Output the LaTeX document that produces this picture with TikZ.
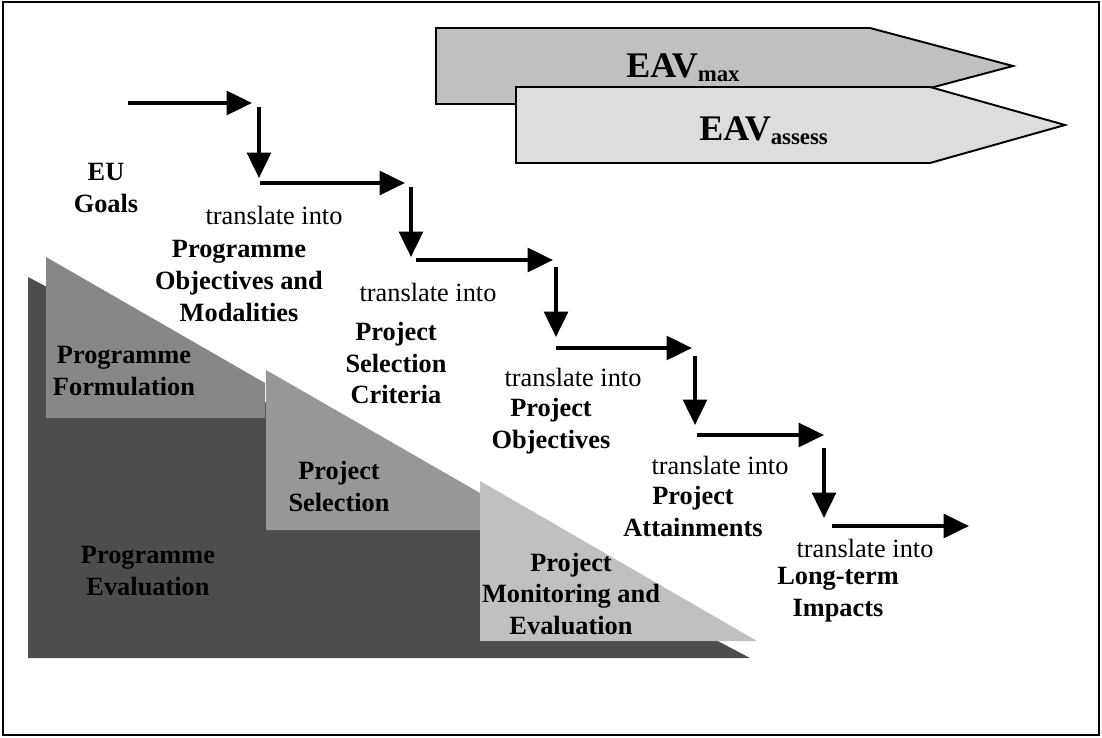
\documentclass[tikz,border=0pt]{standalone}
\usepackage{fontspec}
\setmainfont{Liberation Serif}
\usetikzlibrary{arrows.meta}
\definecolor{evalgray}{HTML}{4D4D4D}
\definecolor{formgray}{HTML}{878787}
\definecolor{selgray}{HTML}{979797}
\definecolor{mongray}{HTML}{C0C0C0}
\definecolor{maxgray}{HTML}{C0C0C0}
\definecolor{assgray}{HTML}{DDDDDD}
\begin{document}
\begin{tikzpicture}[x=0.02cm,y=-0.02cm,
  lbl/.style={font=\fontsize{15}{18.2}\selectfont\bfseries, align=center, inner sep=0pt},
  tr/.style={font=\fontsize{15}{18.2}\selectfont, inner sep=0pt},
  flow/.style={line width=2.3pt, -{Triangle[length=14.5pt,width=13.5pt]}},
  eav/.style={draw=black, line width=1.1pt, line join=miter},
  eavtxt/.style={font=\fontsize{20.5}{24}\selectfont\bfseries, inner sep=0pt, anchor=base west}]
\useasboundingbox (0,0) rectangle (1102,737);
\draw[line width=1.2pt] (3,2) rectangle (1099,735);

% EAV arrows
\draw[eav, fill=maxgray] (436,28) -- (870,28) -- (1013,66) -- (870,104) -- (436,104) -- cycle;
\draw[eav, fill=assgray] (516,87) -- (930,87) -- (1065,125) -- (930,163) -- (516,163) -- cycle;
\node[eavtxt] (eavmax) at (626,77) {EAV\raisebox{-2.8pt}{\fontsize{13}{15}\selectfont max}};
\node[eavtxt] (eavass) at (699,140) {EAV\raisebox{-2.8pt}{\fontsize{13}{15}\selectfont assess}};

% staircase shapes
\fill[evalgray] (28,277) -- (750,658) -- (28,658) -- cycle;
\fill[formgray] (46,257) -- (265,383) -- (265,418) -- (46,418) -- cycle;
\fill[selgray] (266,370) -- (480,493) -- (480,530) -- (266,530) -- cycle;
\fill[mongray] (480,481) -- (757,641) -- (480,641) -- cycle;

\node[lbl] (pform) at (124,371) {Programme\\Formulation};
\node[lbl] (psel) at (339,486) {Project\\Selection};
\node[lbl] (peval) at (148,571) {Programme\\Evaluation};
\node[lbl] (pmon) at (571,594) {Project\\Monitoring and\\Evaluation};

% flow texts
\node[lbl] (eu) at (106,188) {EU\\Goals};
\node[tr] (t1) at (274,215) {translate into};
\node[lbl] (pobj) at (239,281) {Programme\\Objectives and\\Modalities};
\node[tr] (t2) at (428,292) {translate into};
\node[lbl] (crit) at (396,363) {Project\\Selection\\Criteria};
\node[tr] (t3) at (573,377) {translate into};
\node[lbl] (proj) at (551,426) {Project\\Objectives};
\node[tr] (t4) at (720,465) {translate into};
\node[lbl] (att) at (693,511) {Project\\Attainments};
\node[tr] (t5) at (865,548) {translate into};
\node[lbl] (lti) at (838,595) {Long-term\\Impacts};

% arrow coordinates
\coordinate (h1s) at (128,103); \coordinate (h1e) at (252,103);
\coordinate (v1s) at (259,107); \coordinate (v1e) at (259,178);
\coordinate (h2s) at (260,183); \coordinate (h2e) at (405,183);
\coordinate (v2s) at (411,187); \coordinate (v2e) at (411,257);
\coordinate (h3s) at (416,260); \coordinate (h3e) at (553,260);
\coordinate (v3s) at (556,267); \coordinate (v3e) at (556,337);
\coordinate (h4s) at (556,348); \coordinate (h4e) at (692,348);
\coordinate (v4s) at (695,356); \coordinate (v4e) at (695,425);
\coordinate (h5s) at (697,435); \coordinate (h5e) at (824,435);
\coordinate (v5s) at (824,448); \coordinate (v5e) at (824,518);
\coordinate (h6s) at (832,526); \coordinate (h6e) at (969,526);

\draw[flow] (h1s) -- (h1e);
\draw[flow] (v1s) -- (v1e);
\draw[flow] (h2s) -- (h2e);
\draw[flow] (v2s) -- (v2e);
\draw[flow] (h3s) -- (h3e);
\draw[flow] (v3s) -- (v3e);
\draw[flow] (h4s) -- (h4e);
\draw[flow] (v4s) -- (v4e);
\draw[flow] (h5s) -- (h5e);
\draw[flow] (v5s) -- (v5e);
\draw[flow] (h6s) -- (h6e);
\end{tikzpicture}
\end{document}
